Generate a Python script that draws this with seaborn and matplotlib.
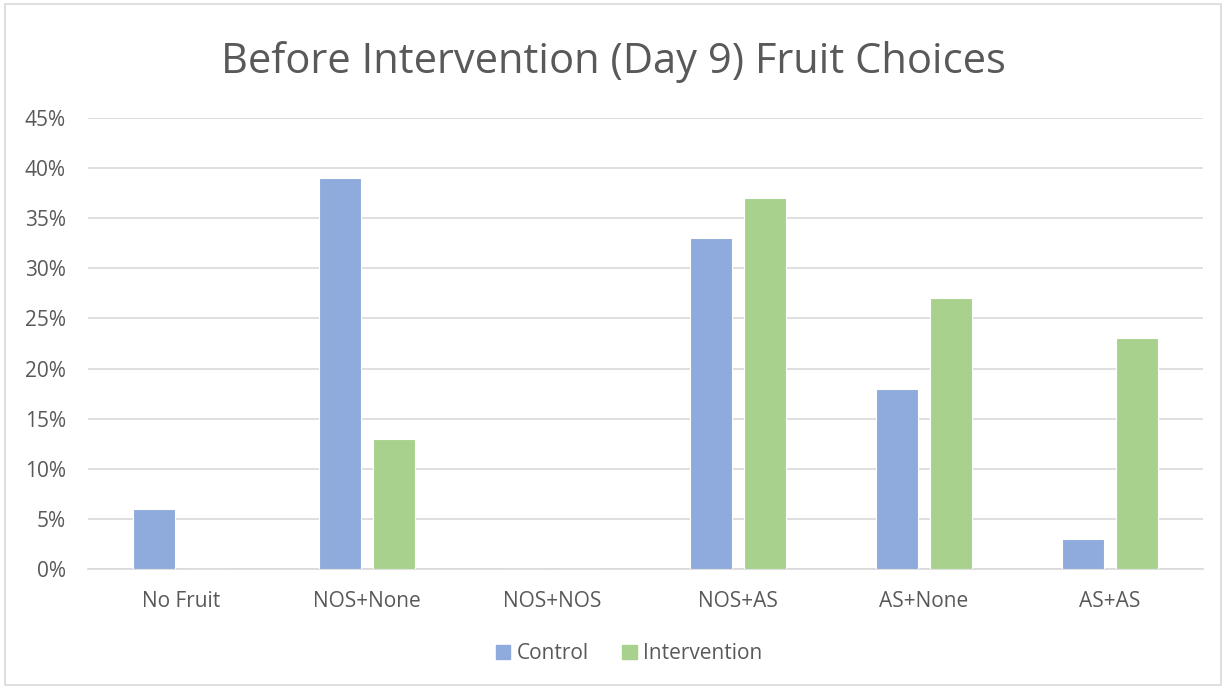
import matplotlib
matplotlib.use("Agg")
import matplotlib.pyplot as plt
import matplotlib.patches as mpatches
import matplotlib.ticker as mtick
import seaborn as sns
import pandas as pd

categories = ["No Fruit", "NOS+None", "NOS+NOS", "NOS+AS", "AS+None", "AS+AS"]
control = [0.06, 0.39, 0.0, 0.33, 0.18, 0.03]
intervention = [0.0, 0.13, 0.0, 0.37, 0.27, 0.23]
groups = ["Control", "Intervention"]
colors = {"Control": "#8FAADC", "Intervention": "#A9D18E"}

df = pd.DataFrame({
    "category": categories * 2,
    "group": [groups[0]] * len(categories) + [groups[1]] * len(categories),
    "value": control + intervention,
})

sns.set_theme(style="white")
plt.rcParams["font.family"] = ["Open Sans", "DejaVu Sans"]
text_col = "#595959"

fig = plt.figure(figsize=(12.26, 6.89), dpi=100)
ax = fig.add_axes([0.0718, 0.1742, 0.9092, 0.6545])

sns.barplot(data=df, x="category", y="value", hue="group", order=categories,
            hue_order=groups, palette=colors, saturation=1, width=0.58, gap=0.22,
            edgecolor="white", linewidth=0.8, ax=ax, legend=False, zorder=3)

ax.set_ylim(0, 0.45)
ax.set_yticks([i * 0.05 for i in range(10)])
ax.yaxis.set_major_formatter(mtick.PercentFormatter(1.0, decimals=0))
ax.yaxis.grid(True, color="#D9D9D9", linewidth=1.2, zorder=0)
ax.set_axisbelow(True)
for s in ["top", "right", "left"]:
    ax.spines[s].set_visible(False)
ax.spines["bottom"].set_color("#D9D9D9")
ax.spines["bottom"].set_linewidth(1.2)
ax.set_xlabel("")
ax.set_ylabel("")
ax.tick_params(axis="both", length=0, labelsize=15, colors=text_col)
ax.tick_params(axis="x", pad=16)
ax.tick_params(axis="y", pad=16)

fig.suptitle("Before Intervention (Day 9) Fruit Choices", fontsize=30,
             color=text_col, y=0.94)

handles = [mpatches.Patch(color=colors[g], label=g) for g in groups]
fig.legend(handles=handles, loc="center", bbox_to_anchor=(0.513, 0.051), ncol=2,
           frameon=False, fontsize=15, labelcolor=text_col, handlelength=0.7,
           handleheight=0.7, handletextpad=0.3, columnspacing=1.6)

fig.patches.append(mpatches.Rectangle((0.004, 0.006), 0.992, 0.988, transform=fig.transFigure,
                                      fill=False, edgecolor="#D9D9D9", linewidth=1.2))

fig.savefig("out.png", dpi=100)
